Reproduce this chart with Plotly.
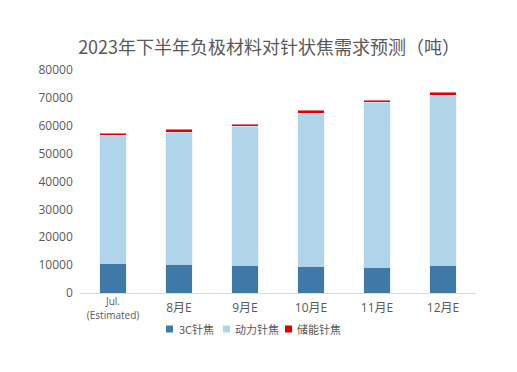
import plotly.graph_objects as go

categories = ["<span style='font-size:10px'>Jul.</span><br><br><span style='font-size:10px'>(Estimated)</span>",
              "<br><span style='font-size:12px'>8月E</span>",
              "<br><span style='font-size:12px'>9月E</span>",
              "<br><span style='font-size:12px'>10月E</span>",
              "<br><span style='font-size:12px'>11月E</span>",
              "<br><span style='font-size:12px'>12月E</span>"]
series_3c = [10700, 10300, 10000, 9600, 9300, 10000]
series_power = [45900, 47400, 49900, 54900, 59200, 60900]
series_storage = [700, 1100, 700, 1100, 700, 1100]
series_names = ["3C针焦", "动力针焦", "储能针焦"]
series_colors = ["#3E79A8", "#B0D5EB", "#E00000"]

latin = "Open Sans, Noto Sans CJK SC, sans-serif"
cjk = "Noto Sans CJK SC, sans-serif"

# page body has an 8px margin, so the figure is drawn 8px smaller and offset
OFF = 8
W, H = 517 - OFF, 372 - OFF
L, R, T, B = 80 - OFF, 41, 70 - OFF, 79
pw, ph = W - L - R, H - T - B

fig = go.Figure()
for name, vals, col in zip(series_names, [series_3c, series_power, series_storage], series_colors):
    fig.add_bar(x=categories, y=vals, name=name, marker_color=col, showlegend=False)

# manual legend (compact, like the reference); positions in page pixels
legend_sq_x = [166, 223, 285]
legend_tx_x = [177, 233, 295]
legend_y = 329
sq = 7
for name, col, px, tx in zip(series_names, series_colors, legend_sq_x, legend_tx_x):
    px -= OFF
    tx -= OFF
    ly = legend_y - OFF
    fig.add_shape(type="rect", xref="paper", yref="paper",
                  x0=(px - L) / pw, x1=(px + sq - L) / pw,
                  y0=(T + ph - (ly + sq / 2)) / ph, y1=(T + ph - (ly - sq / 2)) / ph,
                  fillcolor=col, line_width=0)
    fig.add_annotation(text=name, xref="paper", yref="paper", x=(tx - L) / pw,
                       y=(T + ph - ly) / ph, xanchor="left", yanchor="middle",
                       showarrow=False, font=dict(size=11, color="#595959", family=cjk))

fig.update_layout(
    barmode="stack",
    bargap=0.6,
    width=W, height=H,
    margin=dict(l=L, r=R, t=T, b=B, autoexpand=False),
    paper_bgcolor="white", plot_bgcolor="white",
    font=dict(family=latin, color="#595959", size=12),
    title=dict(text="2023年下半年负极材料对针状焦需求预测（吨）", x=0.513, xanchor="center",
               y=0.890, yanchor="middle",
               font=dict(size=18, color="#595959", family=cjk)),
    showlegend=False,
)
fig.update_xaxes(showline=True, linecolor="#D9D9D9", linewidth=1, ticks="", showgrid=False,
                 tickfont=dict(size=5.2, family=latin), ticklabelstandoff=5, automargin=False)
fig.update_yaxes(range=[0, 80000], dtick=10000, tickformat="d", showgrid=False, zeroline=False,
                 showline=False, tickfont=dict(size=12, family=latin), ticksuffix="  ",
                 automargin=False)

fig.write_html("out.html")
